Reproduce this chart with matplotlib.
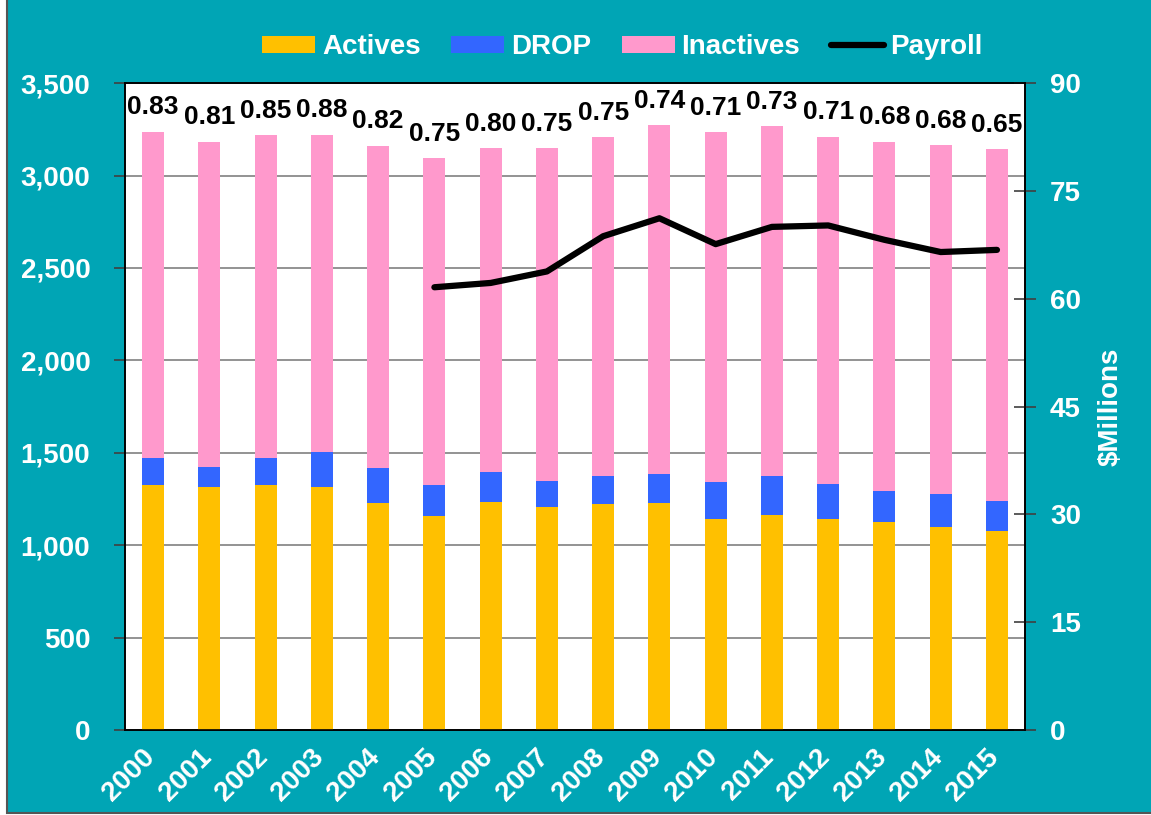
import numpy as np
import matplotlib.pyplot as plt
from matplotlib.patches import Rectangle
from matplotlib.transforms import ScaledTranslation

plt.rcParams['font.family'] = ['Liberation Sans', 'DejaVu Sans']

years = [str(y) for y in range(2000, 2016)]
actives = [1324, 1316, 1324, 1316, 1228, 1159, 1233, 1208, 1221, 1230, 1141, 1161, 1141, 1127, 1097, 1077]
drop = [147, 108, 149, 186, 189, 165, 163, 141, 153, 157, 201, 213, 190, 166, 180, 162]
inactives = [1765, 1760, 1744, 1718, 1744, 1770, 1752, 1798, 1832, 1886, 1891, 1893, 1879, 1891, 1886, 1904]
ratios = ['0.83', '0.81', '0.85', '0.88', '0.82', '0.75', '0.80', '0.75', '0.75', '0.74',
          '0.71', '0.73', '0.71', '0.68', '0.68', '0.65']
payroll_years = years[5:]
payroll = [61.6, 62.2, 63.8, 68.7, 71.2, 67.6, 70.0, 70.2, 68.2, 66.5, 66.8]

teal = '#00A5B5'
c_act = '#FFC000'
c_drop = '#3366FF'
c_inact = '#FF99CC'
fs = 20

fig = plt.figure(figsize=(11.51, 8.15), dpi=100, facecolor='white')
# teal panel with a thin grey frame, small white strip on the left
fig.patches.append(Rectangle((7 / 1151, 2 / 815), 1 - 7 / 1151 + 0.01, 1, transform=fig.transFigure,
                             facecolor=teal, edgecolor='#555555', linewidth=1.5, zorder=-10))
ax = fig.add_axes([0.1086, 0.1043, 0.782, 0.7937])
ax.set_facecolor('white')

x = np.arange(len(years))
w = 0.39
ax.bar(x, actives, w, color=c_act, label='Actives', zorder=3)
ax.bar(x, drop, w, bottom=actives, color=c_drop, label='DROP', zorder=3)
bot2 = np.array(actives) + np.array(drop)
ax.bar(x, inactives, w, bottom=bot2, color=c_inact, label='Inactives', zorder=3)
tops = bot2 + np.array(inactives)
for xi, t, r in zip(x, tops, ratios):
    ax.annotate(r, (xi, t), xytext=(0, 9), textcoords='offset points', ha='center', va='bottom',
                fontsize=19, fontweight='bold', color='black')

ax.set_xlim(-0.5, len(years) - 0.5)
ax.set_ylim(0, 3500)
ax.set_yticks(np.arange(0, 3501, 500))
ax.set_yticklabels([f'{v:,}' for v in range(0, 3501, 500)])
ax.yaxis.grid(True, color='#808080', linewidth=1.2, zorder=0)
ax.set_xticks(x)
ax.set_xticklabels(years, rotation=45, ha='right', va='center', rotation_mode='anchor')
ax.tick_params(axis='both', colors='white', labelsize=fs, width=1.2, length=8)
ax.tick_params(axis='x', length=0, pad=17)
ax.tick_params(axis='y', color='#404040', pad=17)
shift = ScaledTranslation(-2 / 100, 0, fig.dpi_scale_trans)
for lab in ax.get_xticklabels():
    lab.set_transform(lab.get_transform() + shift)
for lab in ax.get_xticklabels() + ax.get_yticklabels():
    lab.set_fontweight('bold')
for s in ax.spines.values():
    s.set_color('black')
    s.set_linewidth(1.2)

ax2 = ax.twinx()
ax2.plot([years.index(y) for y in payroll_years], payroll, color='black', linewidth=4.5,
         solid_capstyle='round', label='Payroll', zorder=5)
ax2.set_ylim(0, 90)
ax2.set_yticks(np.arange(0, 91, 15))
ax2.tick_params(axis='y', colors='white', labelsize=fs, direction='inout', length=16, width=1.2, pad=10)
ax2.tick_params(axis='y', color='#404040')
for lab in ax2.get_yticklabels():
    lab.set_fontweight('bold')
ax2.set_ylabel('$Millions', color='white', fontsize=fs, fontweight='bold', labelpad=12)
for s in ax2.spines.values():
    s.set_color('black')
    s.set_linewidth(1.2)

h1, l1 = ax.get_legend_handles_labels()
h2, l2 = ax2.get_legend_handles_labels()
leg = fig.legend(h1 + h2, l1 + l2, loc='center', bbox_to_anchor=(0.541, 0.942), ncol=4,
                 frameon=False, fontsize=fs, handlelength=1.9, handleheight=0.6,
                 columnspacing=1.1, handletextpad=0.25)
for t in leg.get_texts():
    t.set_color('white')
    t.set_fontweight('bold')

fig.savefig('out.png', dpi=100, facecolor='white')
